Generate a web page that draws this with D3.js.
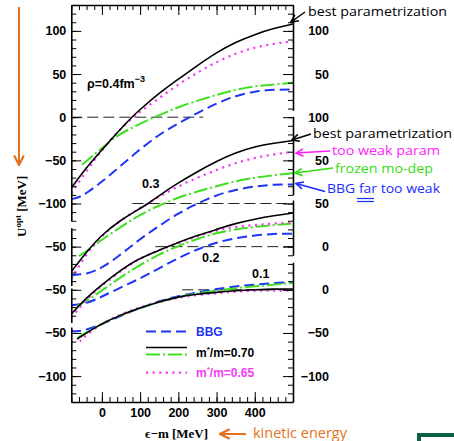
<!DOCTYPE html>
<html>
<head>
<meta charset="utf-8">
<script src="https://cdn.jsdelivr.net/npm/d3@7"></script>
<style>
  body { margin: 0; background: #fff; }
  svg { display: block; }
</style>
</head>
<body>
<svg id="chart" width="454" height="441"></svg>
<script>
// U_opt (MeV) against e-m (MeV), one array per curve
var densities = ["0.4", "0.3", "0.2", "0.1"];
var offsets = [0, 100, 150, 200];        // each panel is pushed down by this much
var xTicks = [0, 100, 200, 300, 400];

var bbg04 = [[-80,-95],[-60,-93],[-40,-88],[0,-75],[50,-56],[100,-37],[150,-20],[200,-7],[250,5],[300,16],[350,25],[400,30],[450,32],[500,32]];
var m70_04 = [[-80,-82],[-40,-58],[0,-38],[40,-18],[78,0],[100,9],[150,28],[200,44],[250,60],[300,75],[350,87],[400,96],[450,103],[500,108]];
var frozen04 = [[-52,-55],[0,-36],[40,-21],[80,-12],[120,-3],[160,4],[200,12],[250,19],[300,26],[350,32],[400,36],[450,38],[500,40]];
var m65_04 = [[-80,-88],[-40,-62],[0,-38],[40,-17],[80,-1],[104,8],[150,22],[200,38],[250,52],[300,64],[350,74],[400,81],[450,85],[500,88]];

var bbg03 = [[-80,-83],[-40,-82],[0,-75],[50,-59],[100,-41],[150,-26],[200,-11],[250,0],[300,10],[350,16],[400,20],[450,22],[500,22]];
var m70_03 = [[-80,-79],[-40,-56],[0,-36],[50,-19],[91,-8],[122,0],[152,10],[200,24],[250,37],[300,49],[350,59],[400,66],[450,70],[500,73]];
var frozen03 = [[-60,-61],[-30,-52],[0,-42],[50,-27],[100,-13],[150,-2],[200,7],[250,14],[300,20],[350,26],[400,30],[450,33],[500,35]];
var m65_03 = [[-80,-87],[-40,-58],[0,-37],[50,-19],[100,-5],[150,8],[200,20],[250,30],[300,39],[350,47],[400,53],[450,57],[500,60]];

var bbg02 = [[-80,-68],[-40,-66],[0,-58],[50,-47],[100,-37],[150,-25],[200,-13],[250,-3],[300,5],[350,10],[400,13],[450,15],[500,15]];
var m70_02 = [[-80,-78],[-40,-59],[0,-44],[50,-27],[91,-15],[150,-4],[200,5],[250,13],[300,20],[350,27],[400,32],[450,36],[500,39]];
var frozen02 = [[-65,-69],[-30,-60],[0,-51],[50,-35],[100,-21],[150,-9],[200,1],[250,9],[300,16],[350,20],[400,23],[450,25],[500,27]];
var m65_02 = [[-80,-82],[-40,-61],[0,-45],[50,-28],[100,-13],[150,-4],[200,4],[250,12],[300,19],[350,23],[400,25],[450,27],[500,28]];

var bbg01 = [[-80,-48],[-50,-48],[0,-40],[50,-30],[100,-21],[150,-13],[200,-7],[250,-3],[300,1],[350,4],[400,6],[450,8],[500,9]];
var m70_01 = [[-65,-57],[-40,-50],[0,-39],[50,-29],[100,-21],[150,-14],[200,-8],[250,-5],[300,-3],[350,-1],[400,0],[450,1],[500,1]];
var frozen01 = [[-62,-55],[0,-39],[50,-29],[100,-21],[150,-14],[200,-8],[250,-4],[300,-1],[350,2],[400,4],[450,6],[500,8]];
var m65_01 = [[-58,-60],[-40,-52],[0,-39],[50,-28],[100,-20],[150,-14],[200,-9],[250,-6],[300,-4],[350,-2],[400,-1],[450,-1],[500,-1]];

// zero lines of each panel, from / to (MeV)
var zeroFrom = [-80, 80, 140, 210];
var zeroTo = [265, 500, 500, 500];

// pieces of the broken y axes: [panel, top value, bottom value] in panel units
var leftPieces = [[0, 130, -120], [1, -28, -95], [2, -48, -88], [3, -43, -130]];
var rightPieces = [[0, 130, 8], [1, 101, 10], [2, 54, -10], [3, 32, -130]];

var svg = d3.select("#chart");

var x = d3.scaleLinear().domain([-80, 500]).range([71.3, 293]);
var y = d3.scaleLinear().domain([-330, 130]).range([402, 5]);

function py(v, k) { return y(v - offsets[k]); }

var plot = svg.append("g");

svg.append("defs").append("clipPath").attr("id", "clip")
    .append("rect")
    .attr("x", x(-80)).attr("y", y(130))
    .attr("width", x(500) - x(-80)).attr("height", y(-330) - y(130));

// zero lines
for (var k = 0; k < 4; k++) {
    plot.append("line")
        .attr("x1", x(zeroFrom[k])).attr("x2", x(zeroTo[k]))
        .attr("y1", py(0, k)).attr("y2", py(0, k))
        .attr("stroke", "#222").attr("stroke-width", 1)
        .attr("stroke-dasharray", "11,5");
}

var styles = {
    bbg:    {stroke: "#1f35f5", width: 2, dash: "10,5"},
    m70:    {stroke: "#000", width: 1.6, dash: null},
    frozen: {stroke: "#3ee01e", width: 2, dash: "14,3,2,3"},
    m65:    {stroke: "#f53cf5", width: 2.2, dash: "2.2,4.4"}
};

var series = [
    [bbg04, "bbg", 0], [frozen04, "frozen", 0], [m65_04, "m65", 0], [m70_04, "m70", 0],
    [bbg03, "bbg", 1], [frozen03, "frozen", 1], [m65_03, "m65", 1], [m70_03, "m70", 1],
    [bbg02, "bbg", 2], [frozen02, "frozen", 2], [m65_02, "m65", 2], [m70_02, "m70", 2],
    [bbg01, "bbg", 3], [frozen01, "frozen", 3], [m65_01, "m65", 3], [m70_01, "m70", 3]
];

var curves = plot.append("g").attr("clip-path", "url(#clip)");
series.forEach(function(s) {
    var k = s[2], st = styles[s[1]];
    var line = d3.line()
        .x(function(d) { return x(d[0]); })
        .y(function(d) { return py(d[1], k); })
        .curve(d3.curveBasis);
    curves.append("path")
        .attr("d", line(s[0]))
        .attr("fill", "none")
        .attr("stroke", st.stroke)
        .attr("stroke-width", st.width)
        .attr("stroke-dasharray", st.dash);
});

// panel labels
var lab = plot.append("g")
    .style("font-family", "'Liberation Sans', Arial, sans-serif")
    .style("font-weight", "bold").style("font-size", "12.5px");
var rho = lab.append("text").attr("x", 87).attr("y", 88);
rho.append("tspan").text("\u03c1=" + densities[0] + "fm");
rho.append("tspan").attr("dy", -6).style("font-size", "9px").text("\u22123");
lab.append("text").attr("x", 142).attr("y", 188).text(densities[1]);
lab.append("text").attr("x", 202).attr("y", 262).text(densities[2]);
lab.append("text").attr("x", 252).attr("y", 278).text(densities[3]);

// broken y axes
function yPiece(side, p) {
    var k = p[0], top = p[1], bot = p[2];
    var sc = d3.scaleLinear().domain([bot, top]).range([py(bot, k), py(top, k)]);
    var minor = d3.range(Math.ceil(bot / 10) * 10, top + 0.1, 10);
    var major = minor.filter(function(v) { return v % 50 === 0; });
    var mk = side === "left" ? d3.axisLeft : d3.axisRight;
    var xpos = side === "left" ? x(-80) : x(500);
    var g1 = svg.append("g").attr("transform", "translate(" + xpos + ",0)")
        .call(mk(sc).tickValues(minor).tickSizeInner(-5).tickSizeOuter(0).tickFormat(""));
    g1.select(".domain").attr("stroke-width", 1.6);
    var g2 = svg.append("g").attr("transform", "translate(" + xpos + ",0)")
        .call(mk(sc).tickValues(major).tickSizeInner(-10).tickSizeOuter(0).tickPadding(5));
    g2.select(".domain").remove();
    g2.selectAll("text")
        .style("font-family", "'Liberation Sans', Arial, sans-serif")
        .style("font-weight", "bold").style("font-size", "12.5px")
        .attr("fill", "#000");
    if (side === "right") {
        g2.selectAll("text").attr("text-anchor", "end").attr("x", 36);
    }
}
leftPieces.forEach(function(p) { yPiece("left", p); });
rightPieces.forEach(function(p) { yPiece("right", p); });

// x axes
var xMinor = d3.range(-80, 501, 20);
var xb1 = svg.append("g").attr("transform", "translate(0," + y(-330) + ")")
    .call(d3.axisBottom(x).tickValues(xMinor).tickSizeInner(-5).tickSizeOuter(0).tickFormat(""));
var xb2 = svg.append("g").attr("transform", "translate(0," + y(-330) + ")")
    .call(d3.axisBottom(x).tickValues(xTicks).tickSizeInner(-10).tickSizeOuter(0).tickPadding(6));
var xt1 = svg.append("g").attr("transform", "translate(0," + y(130) + ")")
    .call(d3.axisTop(x).tickValues(xMinor).tickSizeInner(-5).tickSizeOuter(0).tickFormat(""));
var xt2 = svg.append("g").attr("transform", "translate(0," + y(130) + ")")
    .call(d3.axisTop(x).tickValues(xTicks).tickSizeInner(-10).tickSizeOuter(0).tickFormat(""));
[xb1, xt1].forEach(function(g) { g.select(".domain").attr("stroke-width", 1.6); });
[xb2, xt2].forEach(function(g) { g.select(".domain").remove(); });
xb2.selectAll("text")
    .style("font-family", "'Liberation Sans', Arial, sans-serif")
    .style("font-weight", "bold").style("font-size", "12.5px").attr("fill", "#000");

// axis titles
var serif = "'Liberation Serif', 'Times New Roman', serif";
var xt = svg.append("text").attr("x", 145).attr("y", 438)
    .style("font-family", serif).style("font-weight", "bold").style("font-size", "13px");
xt.text("\u03f5\u2212m [MeV]");

var yt = svg.append("text").attr("transform", "translate(26,237) rotate(-90)")
    .style("font-family", serif).style("font-weight", "bold").style("font-size", "13px");
yt.append("tspan").text("U");
yt.append("tspan").attr("dy", -5).style("font-size", "9px").text("opt");
yt.append("tspan").attr("dy", 5).text(" [MeV]");

// legend
var legend = svg.append("g")
    .style("font-family", "'Liberation Sans', Arial, sans-serif")
    .style("font-weight", "bold").style("font-size", "12px");
var legendRows = [
    {keys: ["bbg"], y: [331.5], text: "BBG", ty: 336, color: "#1f35f5"},
    {keys: ["m70", "frozen"], y: [347.5, 354.5], text: "m*/m=0.70", ty: 357, color: "#000"},
    {keys: ["m65"], y: [372.7], text: "m*/m=0.65", ty: 377, color: "#f53cf5"}
];
legendRows.forEach(function(r) {
    r.keys.forEach(function(key, i) {
        var st = styles[key];
        legend.append("line")
            .attr("x1", 146).attr("x2", 187).attr("y1", r.y[i]).attr("y2", r.y[i])
            .attr("stroke", st.stroke).attr("stroke-width", st.width)
            .attr("stroke-dasharray", st.dash);
    });
    var t = legend.append("text").attr("x", 196).attr("y", r.ty).attr("fill", r.color);
    if (r.text === "BBG") {
        t.text(r.text);
    } else {
        t.append("tspan").text("m");
        t.append("tspan").attr("dy", -5).style("font-size", "8px").text("*");
        t.append("tspan").attr("dy", 5).text(r.text.slice(2));
    }
});

// annotations
var defs = svg.select("defs");
function arrowMarker(id, color) {
    defs.append("marker").attr("id", id)
        .attr("viewBox", "0 0 10 10").attr("refX", 9).attr("refY", 5)
        .attr("markerWidth", 6).attr("markerHeight", 6).attr("orient", "auto")
        .append("path").attr("d", "M1,1L9,5L1,9").attr("fill", "none")
        .attr("stroke", color).attr("stroke-width", 1.8);
}
var notes = [
    {text: "best parametrization", color: "#000", tx: 308, ty: 16, w: 139, a: [305, 12, 291, 22]},
    {text: "best parametrization", color: "#000", tx: 313, ty: 138, w: 139, a: [311, 134, 292, 140]},
    {text: "too weak param", color: "#ff1cff", tx: 332, ty: 155, w: 108, a: [330, 151, 296, 153]},
    {text: "frozen mo-dep", color: "#33dd11", tx: 335, ty: 173, w: 98, a: [333, 168, 295, 173]},
    {text: "BBG far too weak", color: "#1a2cff", tx: 327, ty: 193, w: 113, a: [325, 191.5, 296, 183.5]}
];
var annot = svg.append("g").style("font-family", "'Open Sans', Lato, sans-serif").style("font-size", "12px");
notes.forEach(function(n, i) {
    arrowMarker("arr" + i, n.color);
    annot.append("line")
        .attr("x1", n.a[0]).attr("y1", n.a[1]).attr("x2", n.a[2]).attr("y2", n.a[3])
        .attr("stroke", n.color).attr("stroke-width", 1.5)
        .attr("marker-end", "url(#arr" + i + ")");
    annot.append("text").attr("x", n.tx).attr("y", n.ty).attr("fill", n.color)
        .attr("textLength", n.w).attr("lengthAdjust", "spacingAndGlyphs")
        .text(n.text);
});
// double underline under "far"
[198.5, 201.5].forEach(function(yy) {
    annot.append("line").attr("x1", 357).attr("x2", 374).attr("y1", yy).attr("y2", yy)
        .attr("stroke", "#1a2cff").attr("stroke-width", 1.2);
});

// orange helpers
var orange = "#e5711c";
arrowMarker("arrO", orange);
svg.append("line").attr("x1", 19).attr("y1", 7).attr("x2", 19).attr("y2", 165)
    .attr("stroke", orange).attr("stroke-width", 2).attr("marker-end", "url(#arrO)");
svg.append("line").attr("x1", 246).attr("y1", 434).attr("x2", 220).attr("y2", 434)
    .attr("stroke", orange).attr("stroke-width", 2).attr("marker-end", "url(#arrO)");
svg.append("text").attr("x", 253).attr("y", 438).attr("fill", orange)
    .style("font-family", "'Open Sans', Lato, sans-serif").style("font-size", "14px")
    .attr("textLength", 94).attr("lengthAdjust", "spacingAndGlyphs")
    .text("kinetic energy");

// corner logo fragment
svg.append("rect").attr("x", 417).attr("y", 433).attr("width", 40).attr("height", 10).attr("fill", "#0f6040");
svg.append("rect").attr("x", 421).attr("y", 437).attr("width", 36).attr("height", 6).attr("fill", "#fff");
</script>
</body>
</html>
